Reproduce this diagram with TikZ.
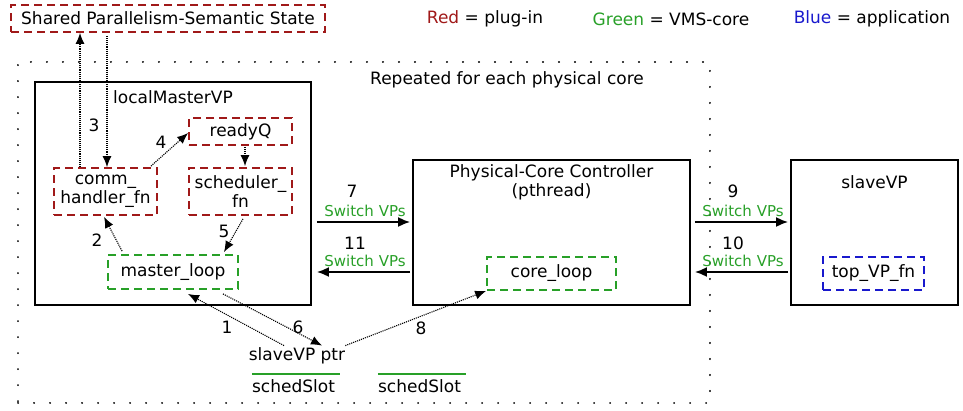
\documentclass[tikz,border=0pt]{standalone}
\usepackage{fontspec}
\setmainfont{DejaVu Sans}
\usetikzlibrary{arrows.meta}
\definecolor{plugred}{RGB}{160,25,25}
\definecolor{coregreen}{RGB}{40,160,40}
\definecolor{appblue}{RGB}{25,25,205}
\tikzstyle{plugin}=[draw=plugred,line width=1.8pt,dash pattern=on 8pt off 5pt,inner sep=0pt,align=center]
\tikzstyle{vmscore}=[draw=coregreen,line width=1.8pt,dash pattern=on 8pt off 5pt,inner sep=0pt,align=center]
\tikzstyle{appfn}=[draw=appblue,line width=1.8pt,dash pattern=on 8pt off 5pt,inner sep=0pt,align=center]
\tikzstyle{vpbox}=[draw=black,line width=1.8pt,inner sep=0pt]
\tikzstyle{flow}=[line width=1.1pt,densely dotted,-{Latex[length=11pt,width=9pt]}]
\tikzstyle{switchvp}=[line width=1.8pt,-{Latex[length=12pt,width=10pt]}]
\tikzstyle{swlabel}=[text=coregreen,font=\fontsize{15}{17}\selectfont]

\begin{document}
\begin{tikzpicture}[x=1pt,y=-1pt,font=\fontsize{17}{19}\selectfont]
			\useasboundingbox (0,0) rectangle (963,410);
			% shared state and legend
			\node (shared) at (168,18.5) [plugin,minimum width=314pt,minimum height=27pt] {Shared Parallelism-Semantic State};
			\node (red) at (485,19) {\textcolor{plugred}{Red} = plug-in};
			\node (green) at (671,19) {\textcolor{coregreen}{Green} = VMS-core};
			\node (blue) at (872,19) {\textcolor{appblue}{Blue} = application};
			% per core region
			\node (core) at (364,232.5) [draw,line width=2pt,dash pattern=on 0.1pt off 15.9pt,line cap=round,minimum width=692pt,minimum height=341pt] {};
			\node (rep) at (507,80) {Repeated for each physical core};
			% localMasterVP
			\node (lmvp) at (173,193.5) [vpbox,minimum width=276pt,minimum height=223pt] {};
			\node (lmvplabel) at (173,97) {localMasterVP};
			\node (readyQ) at (240.5,131.5) [plugin,minimum width=103pt,minimum height=27pt] {readyQ};
			\node (comm) at (105.5,191.5) [plugin,minimum width=103pt,minimum height=47pt] {comm\_\\handler\_fn};
			\node (sched) at (240.5,191.5) [plugin,minimum width=103pt,minimum height=47pt] {scheduler\_\\fn};
			\node (master) at (173,272) [vmscore,minimum width=130pt,minimum height=34pt] {master\_loop};
			% controller and slave
			\node (pcc) at (551.5,232.5) [vpbox,minimum width=277pt,minimum height=145pt] {};
			\node (pcclabel) at (551.5,182) [align=center] {Physical-Core Controller\\(pthread)};
			\node (coreloop) at (551.5,273.5) [vmscore,minimum width=129pt,minimum height=33pt] {core\_loop};
			\node (svp) at (874.5,232.5) [vpbox,minimum width=167pt,minimum height=145pt] {};
			\node (svplabel) at (874.5,182) {slaveVP};
			\node (topfn) at (873.5,273.5) [appfn,minimum width=101pt,minimum height=33pt] {top\_VP\_fn};
			% sched slots
			\node (ptr) at (297,356) [inner sep=0pt] {slaveVP ptr};
			\node (slot1) at (293.5,386) [inner sep=0pt] {schedSlot};
			\node (slot2) at (419.5,386) [inner sep=0pt] {schedSlot};
			\draw[coregreen,line width=1.8pt] ([yshift=5pt]slot1.north west) -- ++(88,0);
			\draw[coregreen,line width=1.8pt] ([yshift=5pt]slot2.north west) -- ++(88,0);
			% flows
			\draw[flow] ([xshift=-25.5pt]comm.north) -- ([xshift=-25.5pt]comm.north |- shared.south);
			\draw[flow] ([xshift=1.5pt,yshift=-3pt]comm.north |- shared.south) -- ([xshift=1.5pt]comm.north);
			\draw[flow] ([xshift=-7pt,yshift=1pt]comm.north east) -- ([yshift=-1.5pt]readyQ.west);
			\draw[flow] ([xshift=4.5pt,yshift=-1pt]readyQ.south) -- ([xshift=4.5pt,yshift=1pt]sched.north);
			\draw[flow] ([xshift=15pt,yshift=3pt]master.north west) -- ([xshift=-1.5pt,yshift=-1pt]comm.south);
			\draw[flow] ([xshift=2.5pt,yshift=-3pt]sched.south) -- ([xshift=51pt,yshift=2pt]master.north);
			\draw[flow] ([xshift=-13pt,yshift=2pt]ptr.north) -- ([xshift=15pt,yshift=-4pt]master.south);
			\draw[flow] ([xshift=50pt,yshift=-4pt]master.south) -- ([xshift=25pt,yshift=2pt]ptr.north);
			\draw[flow] ([yshift=2pt]ptr.north east) -- (coreloop.south west);
			\node (n3) at (94,125) {3};
			\node (n4) at (161,142) {4};
			\node (n2) at (97,240) {2};
			\node (n5) at (224,231) {5};
			\node (n1) at (227,327) {1};
			\node (n6) at (298,327) {6};
			\node (n8) at (421,328) {8};
			% switches
			\draw[switchvp] ([yshift=10.5pt]pcc.west -| lmvp.east) ++(5,0) -- ([xshift=-2pt,yshift=10.5pt]pcc.west);
			\draw[switchvp] ([xshift=-2pt,yshift=-39.5pt]pcc.west) -- ([xshift=5pt,yshift=-39.5pt]pcc.west -| lmvp.east);
			\draw[switchvp] ([xshift=4pt,yshift=10.5pt]pcc.east) -- ([xshift=-2pt,yshift=10.5pt]svp.west);
			\draw[switchvp] ([xshift=-2pt,yshift=-39.5pt]svp.west) -- ([xshift=4pt,yshift=-39.5pt]pcc.east);
			\node (n7) at (352,191) {7};
			\node (sw7) at (365,211) [swlabel] {Switch VPs};
			\node (n11) at (355,243) {11};
			\node (sw11) at (365,261) [swlabel] {Switch VPs};
			\node (n9) at (733,191) {9};
			\node (sw9) at (743,211) [swlabel] {Switch VPs};
			\node (n10) at (733,243) {10};
			\node (sw10) at (743,261) [swlabel] {Switch VPs};
		\end{tikzpicture}
\end{document}
